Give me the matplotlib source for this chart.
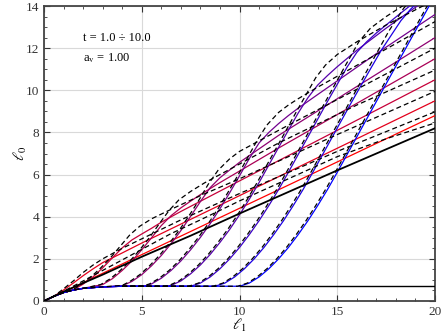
import numpy as np
import matplotlib
matplotlib.use("Agg")
import matplotlib.pyplot as plt

plt.rcParams['font.family'] = 'Liberation Serif'
plt.rcParams['mathtext.fontset'] = 'stix'

# colored curves, t = 1 ... 10 (red -> blue)
t_values = [1, 2, 3, 4, 5, 6, 7, 8, 9, 10]

x_t1 = [0, 0.5, 1, 2, 5, 10, 15, 20]
y_t1 = [0, 0.22, 0.43, 0.87, 2.2, 4.4, 6.6, 8.8]

x_t2 = [0, 0.5, 1, 1.5, 2, 2.5, 3, 4, 5, 10, 15, 20]
y_t2 = [0, 0.22, 0.52, 0.85, 1.2, 1.52, 1.82, 2.28, 2.75, 5.0, 7.25, 9.5]

x_t3 = [0, 0.5, 1, 1.5, 2, 2.5, 3, 3.5, 4, 4.5, 5, 5.5, 6, 7, 10, 15, 20]
y_t3 = [0, 0.22, 0.4, 0.53, 0.8, 1.14, 1.57, 2.05, 2.52, 2.9, 3.18, 3.45, 3.74, 4.25, 5.7, 8.1, 10.5]

x_t4 = [0, 0.5, 1, 1.5, 2, 3, 3.5, 4, 4.5, 5, 5.5, 6, 6.5, 7, 7.5, 8, 9, 12, 16, 20]
y_t4 = [0, 0.22, 0.4, 0.52, 0.6, 0.78, 1.06, 1.45, 1.9, 2.43, 3.0, 3.58, 4.05, 4.42, 4.74, 5.05, 5.62, 7.26, 9.38, 11.5]

x_t5 = [0, 0.5, 1, 1.5, 2, 3, 4, 4.5, 5, 5.5, 6, 6.5, 7, 7.5, 8, 8.5, 9, 9.5, 10, 11, 12, 16, 20]
y_t5 = [0, 0.22, 0.4, 0.52, 0.6, 0.67, 0.72, 0.93, 1.25, 1.67, 2.16, 2.72, 3.34, 4.02, 4.72, 5.38, 5.85, 6.22, 6.58, 7.22, 7.86, 10.18, 12.5]

x_t6 = [0, 0.5, 1, 1.5, 2, 3, 4, 5.1, 5.5, 6, 6.5, 7, 7.5, 8, 8.5, 9, 9.5, 10, 10.5, 11, 11.5, 12, 12.5, 13, 14, 17, 20]
y_t6 = [0, 0.22, 0.4, 0.52, 0.6, 0.67, 0.7, 0.7, 0.81, 1.08, 1.45, 1.9, 2.43, 3.02, 3.67, 4.38, 5.14, 5.94, 6.76, 7.5, 8.0, 8.42, 8.8, 9.15, 9.8, 11.74, 13.6]

x_t7 = [0, 0.5, 1, 1.5, 2, 3, 4, 6.3, 6.5, 7, 7.5, 8, 8.5, 9, 9.5, 10, 10.5, 11, 12, 13, 13.5, 14, 14.5, 15, 16, 17.5, 20]
y_t7 = [0, 0.22, 0.4, 0.52, 0.6, 0.67, 0.7, 0.7, 0.74, 0.95, 1.29, 1.71, 2.21, 2.78, 3.4, 4.09, 4.83, 5.62, 7.29, 8.92, 9.65, 10.25, 10.7, 11.12, 11.9, 12.95, 14.6]

x_t8 = [0, 0.5, 1, 1.5, 2, 3, 4, 7.5, 8, 8.5, 9, 9.5, 10, 10.5, 11, 11.5, 12, 12.5, 13.5, 14.5, 15.5, 16, 16.5, 17, 17.5, 18, 19]
y_t8 = [0, 0.22, 0.4, 0.52, 0.6, 0.67, 0.7, 0.7, 0.85, 1.14, 1.53, 2.0, 2.54, 3.15, 3.81, 4.53, 5.29, 6.11, 7.79, 9.47, 11.1, 11.8, 12.3, 12.72, 13.1, 13.48, 14.22]

x_t9 = [0, 0.5, 1, 1.5, 2, 3, 4, 8.75, 9.25, 9.75, 10.25, 10.75, 11.25, 11.75, 12.25, 12.75, 13.25, 13.75, 14.75, 15.75, 16.75, 17.25, 17.75, 18.25, 18.75, 19.25]
y_t9 = [0, 0.22, 0.4, 0.52, 0.6, 0.67, 0.7, 0.7, 0.85, 1.14, 1.53, 2.0, 2.54, 3.15, 3.81, 4.53, 5.29, 6.11, 7.79, 9.47, 11.1, 11.9, 12.6, 13.3, 13.85, 14.3]

x_t10 = [0, 0.5, 1, 1.5, 2, 3, 4, 10, 10.5, 11, 11.5, 12, 12.5, 13, 13.5, 14, 14.5, 15, 16, 17, 18, 19, 20]
y_t10 = [0, 0.22, 0.4, 0.52, 0.6, 0.67, 0.7, 0.7, 0.85, 1.14, 1.53, 2.0, 2.54, 3.15, 3.81, 4.53, 5.29, 6.11, 7.79, 9.47, 11.15, 12.83, 14.51]

# dashed black companions
xd_t1 = [0, 1, 2, 3, 4, 5, 6.5, 8, 10, 12.5, 15, 17.5, 20]
yd_t1 = [0, 0.46, 0.95, 1.45, 1.95, 2.45, 3.2, 3.85, 4.75, 5.8, 6.85, 7.7, 8.45]

xd_t2 = [0, 0.5, 1, 1.5, 2, 2.5, 3, 4, 5, 7, 10, 15, 20]
yd_t2 = [0, 0.22, 0.58, 0.95, 1.35, 1.7, 2.0, 2.5, 2.95, 3.85, 5.1, 7.1, 8.98]

xd_t3 = [0, 0.5, 1, 1.5, 1.9, 2.4, 2.9, 3.4, 3.9, 4.4, 4.9, 5.5, 6.5, 8, 10, 15, 20]
yd_t3 = [0, 0.22, 0.4, 0.55, 0.8, 1.14, 1.57, 2.05, 2.6, 3.15, 3.55, 3.9, 4.35, 5.0, 5.8, 7.9, 9.95]

xd_t4 = [0, 0.5, 1, 1.5, 2, 2.9, 3.4, 3.9, 4.4, 4.9, 5.4, 5.9, 6.4, 6.9, 7.5, 8.2, 9, 12, 16, 20]
yd_t4 = [0, 0.22, 0.4, 0.52, 0.6, 0.78, 1.06, 1.45, 1.9, 2.43, 3.02, 3.67, 4.3, 4.8, 5.2, 5.6, 6.0, 7.5, 9.3, 10.96]

xd_t5 = [0, 0.5, 1, 1.5, 2, 3, 4, 4.4, 4.9, 5.4, 5.9, 6.4, 6.9, 7.4, 7.9, 8.4, 8.9, 9.5, 10, 11, 12, 16, 20]
yd_t5 = [0, 0.22, 0.4, 0.52, 0.6, 0.67, 0.74, 0.93, 1.25, 1.67, 2.16, 2.72, 3.34, 4.02, 4.75, 5.54, 6.2, 6.75, 7.1, 7.6, 8.1, 10.05, 12.0]

xd_t6 = [4, 5.0, 5.4, 5.9, 6.4, 6.9, 7.4, 7.9, 8.4, 8.9, 9.4, 9.9, 10.4, 10.9, 11.4, 12, 12.5, 13, 14, 17, 20]
yd_t6 = [0.7, 0.7, 0.81, 1.08, 1.45, 1.9, 2.43, 3.02, 3.67, 4.38, 5.14, 5.94, 6.78, 7.62, 8.35, 8.95, 9.3, 9.6, 10.15, 11.7, 13.26]

xd_t7 = [4, 6.2, 6.4, 6.9, 7.4, 7.9, 8.4, 8.9, 9.4, 9.9, 10.4, 10.9, 11.9, 12.9, 13.9, 14.4, 15, 16, 17.5, 20]
yd_t7 = [0.7, 0.7, 0.74, 0.95, 1.29, 1.71, 2.21, 2.78, 3.4, 4.09, 4.83, 5.62, 7.29, 8.97, 10.6, 11.2, 11.7, 12.3, 13.1, 14.3]

xd_t8 = [4, 7.4, 7.9, 8.4, 8.9, 9.4, 9.9, 10.4, 10.9, 11.4, 11.9, 12.4, 13.4, 14.4, 15.4, 16.1, 16.7, 17.5, 18.5]
yd_t8 = [0.7, 0.7, 0.85, 1.14, 1.53, 2.0, 2.54, 3.15, 3.81, 4.53, 5.29, 6.11, 7.79, 9.47, 11.15, 12.3, 12.95, 13.5, 14.1]

xd_t9 = [4, 8.65, 9.15, 9.65, 10.15, 10.65, 11.15, 11.65, 12.15, 12.65, 13.15, 13.65, 14.65, 15.65, 16.65, 17.65, 18.4, 19.0]
yd_t9 = [0.7, 0.7, 0.85, 1.14, 1.53, 2.0, 2.54, 3.15, 3.81, 4.53, 5.29, 6.11, 7.79, 9.47, 11.15, 12.83, 13.9, 14.5]

xd_t10 = [4, 9.9, 10.4, 10.9, 11.4, 11.9, 12.4, 12.9, 13.4, 13.9, 14.4, 14.9, 15.9, 16.9, 17.9, 18.9, 19.9]
yd_t10 = [0.7, 0.7, 0.85, 1.14, 1.53, 2.0, 2.54, 3.15, 3.81, 4.53, 5.29, 6.11, 7.79, 9.47, 11.15, 12.83, 14.51]

# solid black reference curve and the horizontal limit
x_black = [0, 1, 2, 3, 5, 7.5, 10, 15, 20]
y_black = [0, 0.44, 0.85, 1.25, 2.1, 3.1, 4.15, 6.2, 8.2]
x_limit = [10, 20]
y_limit = [0.7, 0.7]

curves = [(x_t1, y_t1), (x_t2, y_t2), (x_t3, y_t3), (x_t4, y_t4), (x_t5, y_t5),
          (x_t6, y_t6), (x_t7, y_t7), (x_t8, y_t8), (x_t9, y_t9), (x_t10, y_t10)]
dashed = [(xd_t1, yd_t1), (xd_t2, yd_t2), (xd_t3, yd_t3), (xd_t4, yd_t4), (xd_t5, yd_t5),
          (xd_t6, yd_t6), (xd_t7, yd_t7), (xd_t8, yd_t8), (xd_t9, yd_t9), (xd_t10, yd_t10)]

fig = plt.figure(figsize=(4.43, 3.35), dpi=100)
ax = fig.add_axes([0.0993, 0.1015, 0.8827, 0.8805])

for t, (xs, ys) in zip(t_values, curves):
    f = (t - 1) / 9.0
    ax.plot(xs, ys, color=(1 - f, 0, f), lw=0.9, zorder=3)

for xs, ys in dashed:
    ax.plot(xs, ys, color='black', lw=0.9, dashes=(4, 2.5), zorder=4)

ax.plot(x_black, y_black, color='black', lw=1.3, zorder=5)
ax.plot(x_limit, y_limit, color='black', lw=1.0, zorder=5)

ax.set_xlim(0, 20)
ax.set_ylim(0, 14)
ax.set_xticks([0, 5, 10, 15, 20])
ax.set_yticks([0, 2, 4, 6, 8, 10, 12, 14])
ax.set_xticks(np.arange(0, 20.1, 1), minor=True)
ax.set_yticks(np.arange(0, 14.1, 0.5), minor=True)
ax.tick_params(which='both', direction='in', top=True, right=True, labelsize=9.5, colors='#333333')
ax.tick_params(which='major', length=4, width=0.8)
ax.tick_params(which='minor', length=2, width=0.6)
ax.grid(True, which='major', color='#d9d9d9', lw=0.8, zorder=0)
for s in ax.spines.values():
    s.set_color('#444444')
    s.set_linewidth(1.3)

ax.set_xlabel(r'$\ell_1$', fontsize=11, labelpad=-1)
ax.set_ylabel(r'$\ell_0$', fontsize=11, labelpad=-2.5)

ax.text(2.0, 12.5, u't = 1.0 \u00f7 10.0', fontsize=9, va='center')
ax.text(2.0, 11.55, r'a$_\mathrm{v}$ = 1.00', fontsize=9, va='center')

fig.savefig('out.png', dpi=100)
